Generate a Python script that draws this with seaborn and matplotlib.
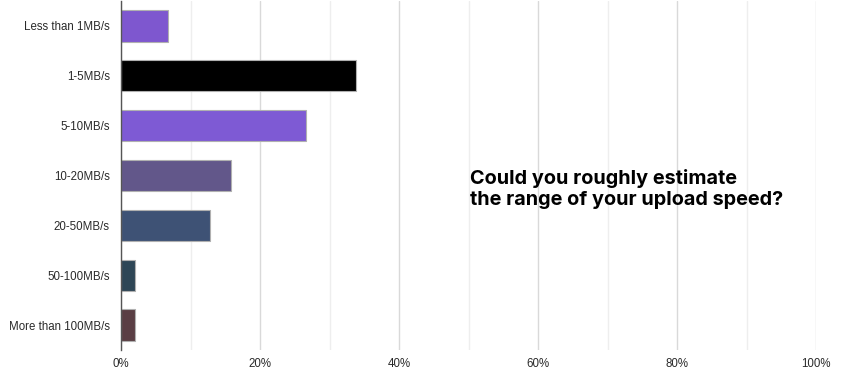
import matplotlib
matplotlib.use("Agg")
import matplotlib.pyplot as plt
import seaborn as sns
import pandas as pd
from matplotlib.ticker import MultipleLocator, FuncFormatter

categories = ["Less than 1MB/s", "1-5MB/s", "5-10MB/s", "10-20MB/s",
              "20-50MB/s", "50-100MB/s", "More than 100MB/s"]
values = [6.8, 33.8, 26.6, 15.8, 12.8, 2.0, 2.0]
colors = ["#7E57CF", "#000000", "#7E5AD4", "#62578A", "#3E5275", "#2E4656", "#5A3E44"]
xticks = [0, 20, 40, 60, 80, 100]
title_text = "Could you roughly estimate\nthe range of your upload speed?"

df = pd.DataFrame({"category": categories, "value": values})

sns.set_style("white")
plt.rcParams['font.family'] = ['Liberation Sans', 'DejaVu Sans']

fig = plt.figure(figsize=(8.68, 3.76), dpi=100)
ax = fig.add_axes([121/868, 1 - 350/376, 695/868, 349/376])

sns.barplot(data=df, x="value", y="category", hue="category", palette=colors,
            order=categories, hue_order=categories, legend=False, ax=ax,
            saturation=1, width=0.63, edgecolor="#b0b0b0", linewidth=0.8, zorder=3)

ax.set_xlim(0, 100)
ax.set_ylim(6.5, -0.5)
ax.set_xticks(xticks)
ax.xaxis.set_minor_locator(MultipleLocator(10))
ax.xaxis.set_major_formatter(FuncFormatter(lambda v, p: f"{int(v)}%"))
ax.grid(axis="x", which="major", color="#d9d9d9", linewidth=1.0, zorder=0)
ax.grid(axis="x", which="minor", color="#eeeeee", linewidth=1.0, zorder=0)
ax.set_axisbelow(True)
ax.set_xlabel("")
ax.set_ylabel("")
for s in ["top", "right", "bottom"]:
    ax.spines[s].set_visible(False)
ax.spines["left"].set_color("#555555")
ax.spines["left"].set_linewidth(1.0)
ax.spines["left"].set_zorder(4)
ax.tick_params(axis="both", which="both", length=0, labelsize=8.3, colors="#2a2a2a")
ax.tick_params(axis="x", pad=6)
ax.tick_params(axis="y", pad=8)

fig.text(470/868, 1 - 189/376, title_text, fontsize=14.3, fontweight="bold",
         family=["Inter", "DejaVu Sans"], color="#000000", ha="left", va="center",
         linespacing=1.15)

fig.savefig("out.png", dpi=100)
